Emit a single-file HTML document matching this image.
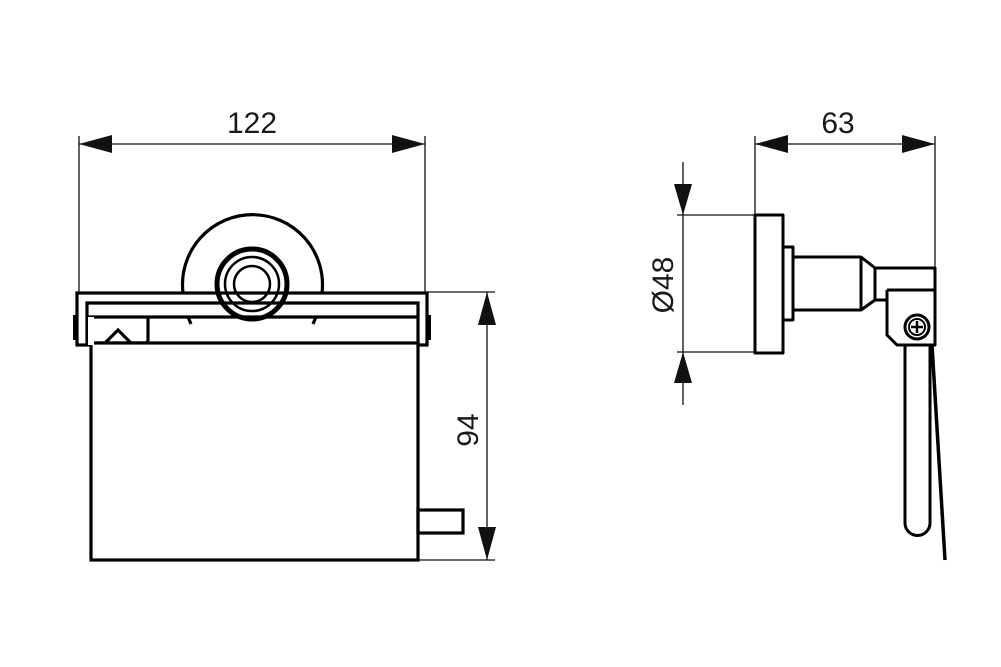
<!DOCTYPE html>
<html><head><meta charset="utf-8"><style>
html,body{margin:0;padding:0;background:#fff;}
svg{display:block;}
text{font-family:"Liberation Sans",sans-serif;fill:#1a1a1a;}
</style></head><body>
<svg width="1001" height="667" viewBox="0 0 1001 667" xmlns="http://www.w3.org/2000/svg">
<rect width="1001" height="667" fill="#fff"/>
<!-- dimension thin lines -->
<g stroke="#111" stroke-width="1.3" fill="none">
  <line x1="79" y1="136" x2="79" y2="293"/>
  <line x1="425" y1="136" x2="425" y2="293"/>
  <line x1="79" y1="144" x2="425" y2="144"/>
  <line x1="427" y1="292" x2="495" y2="292"/>
  <line x1="418" y1="560" x2="495" y2="560"/>
  <line x1="487" y1="292" x2="487" y2="560"/>
  <line x1="755" y1="136" x2="755" y2="215"/>
  <line x1="935" y1="136" x2="935" y2="268"/>
  <line x1="755" y1="144" x2="935" y2="144"/>
  <line x1="677" y1="215" x2="755" y2="215"/>
  <line x1="677" y1="352" x2="755" y2="352"/>
  <line x1="683" y1="162" x2="683" y2="405"/>
</g>
<g fill="#111">
  <polygon points="79,144 112,135 112,153"/>
  <polygon points="425,144 392,135 392,153"/>
  <polygon points="487,292 478,325 496,325"/>
  <polygon points="487,560 478,527 496,527"/>
  <polygon points="755,144 788,135 788,153"/>
  <polygon points="935,144 902,135 902,153"/>
  <polygon points="683,215 674,184 692,184"/>
  <polygon points="683,352 674,383 692,383"/>
</g>
<text x="252" y="133" font-size="30" text-anchor="middle">122</text>
<text x="838" y="133" font-size="30" text-anchor="middle">63</text>
<text transform="translate(478,430) rotate(-90)" font-size="30" text-anchor="middle">94</text>
<text transform="translate(673,285) rotate(-90)" font-size="30" text-anchor="middle">Ø48</text>

<!-- front view -->
<g stroke="#000" stroke-width="3.2" fill="none">
  <path d="M183,293 A70,70 0 1 1 322,293"/>
  <path d="M188,317 L191,324 M316,317 L313,324"/>
  <circle cx="252" cy="284" r="35" stroke-width="5"/>
  <circle cx="252" cy="284" r="27" stroke-width="2.5"/>
  <circle cx="252" cy="284" r="18" stroke-width="2.5"/>
  <rect x="77" y="293" width="350" height="52" fill="none"/>
  <path d="M87,345 L87,303 L418,303 L418,345"/>
  <line x1="87" y1="317" x2="418" y2="317"/>
  <path d="M87,343 L145,343 Q148,343 148,340 L148,317"/>
  <path d="M105,343 L118,330 L131,343"/>
  <rect x="91" y="343" width="327" height="217" fill="#fff"/>
  <rect x="418" y="510" width="45" height="23"/>
</g>
<rect x="73" y="315" width="5" height="25" fill="#000"/>
<rect x="426" y="315" width="5" height="25" fill="#000"/>
<rect x="88" y="317" width="6" height="28" fill="#fff"/>

<!-- side view -->
<g stroke="#000" stroke-width="3" fill="none" stroke-linejoin="round">
  <rect x="755" y="215" width="28" height="138"/>
  <rect x="783" y="247" width="10" height="73"/>
  <path d="M793,257 L861,257 L875,268 L875,300 L861,310 L793,310"/>
  <line x1="861" y1="257" x2="861" y2="310"/>
  <path d="M875,268 L935,268 L935,290 L887,290"/>
  <path d="M875,300 L887,300 L887,290"/>
  <path d="M887,290 L887,335 L897,345 L935,345 L935,290"/>
  <circle cx="917" cy="327" r="12"/>
  <circle cx="917" cy="327" r="8" stroke-width="2"/>
  <path d="M905,345 L905,523 A12.5,12.5 0 0 0 930,523 L930,345"/>
  <path d="M932,345 L945,560" stroke-width="3.5"/>
</g>
<g stroke="#000" stroke-width="2.5">
  <line x1="911" y1="327" x2="923" y2="327"/>
  <line x1="917" y1="321" x2="917" y2="333"/>
</g>
</svg>
</body></html>
